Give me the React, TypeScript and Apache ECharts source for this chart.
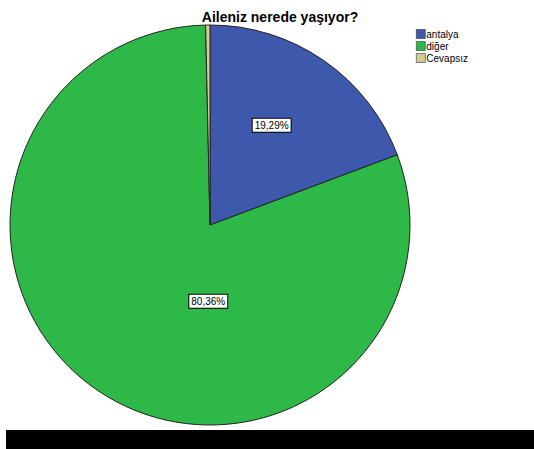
import React, { useEffect, useRef } from "react";
import * as echarts from "echarts";

const title = "Aileniz nerede yaşıyor?";
const categories = ["antalya", "diğer", "Cevapsız"];
const values = [19.29, 80.36, 0.35];
const colors = ["#3E58AC", "#2EB848", "#D3CE97"];
const labelShown = [true, true, false];

export default function App() {
  const ref = useRef<HTMLDivElement>(null);
  useEffect(() => {
    const chart = echarts.init(ref.current!, null, { renderer: "svg" });
    const offsets: number[][] = [[3, -15], [56, -9], [0, 0]];
    const option = {
      animation: false,
      backgroundColor: "#ffffff",
      title: {
        text: title,
        left: 275,
        textAlign: "center",
        top: 5,
        textStyle: { fontFamily: "Liberation Sans", fontSize: 14, fontWeight: "bold", color: "#000" },
      },
      legend: {
        orient: "vertical",
        left: 411,
        top: 24,
        itemWidth: 9,
        itemHeight: 9,
        itemGap: 2,
        icon: "rect",
        data: categories,
        textStyle: { fontFamily: "Liberation Sans", fontSize: 10, color: "#000", padding: [0, 0, 0, -4] },
        itemStyle: { borderColor: "#333", borderWidth: 0.6 },
      },
      graphic: [
        { type: "rect", left: 6, top: 430, shape: { width: 528, height: 19 }, style: { fill: "#000" } },
      ],
      series: [
        {
          type: "pie",
          center: [210, 225],
          radius: 200,
          startAngle: 90,
          clockwise: true,
          avoidLabelOverlap: false,
          itemStyle: { borderColor: "#222", borderWidth: 1 },
          label: {
            show: true,
            position: "inside",
            formatter: (p: any) => p.value.toFixed(2).replace(".", ",") + "%",
            fontFamily: "Liberation Sans",
            fontSize: 10,
            color: "#000",
            backgroundColor: "#fff",
            borderColor: "#000",
            borderWidth: 1,
            padding: [2, 2, 1, 2],
          },
          labelLine: { show: false },
          emphasis: { disabled: true },
          data: categories.map((c, i) => ({
            name: c,
            value: values[i],
            itemStyle: { color: colors[i] },
            label: { show: labelShown[i], offset: offsets[i] },
          })),
        },
      ],
    };
    chart.setOption(option as any);
    return () => chart.dispose();
  }, []);
  return (
    <div
      ref={ref}
      style={{ position: "fixed", left: 0, top: 0, width: 534, height: 449 }}
    />
  );
}
